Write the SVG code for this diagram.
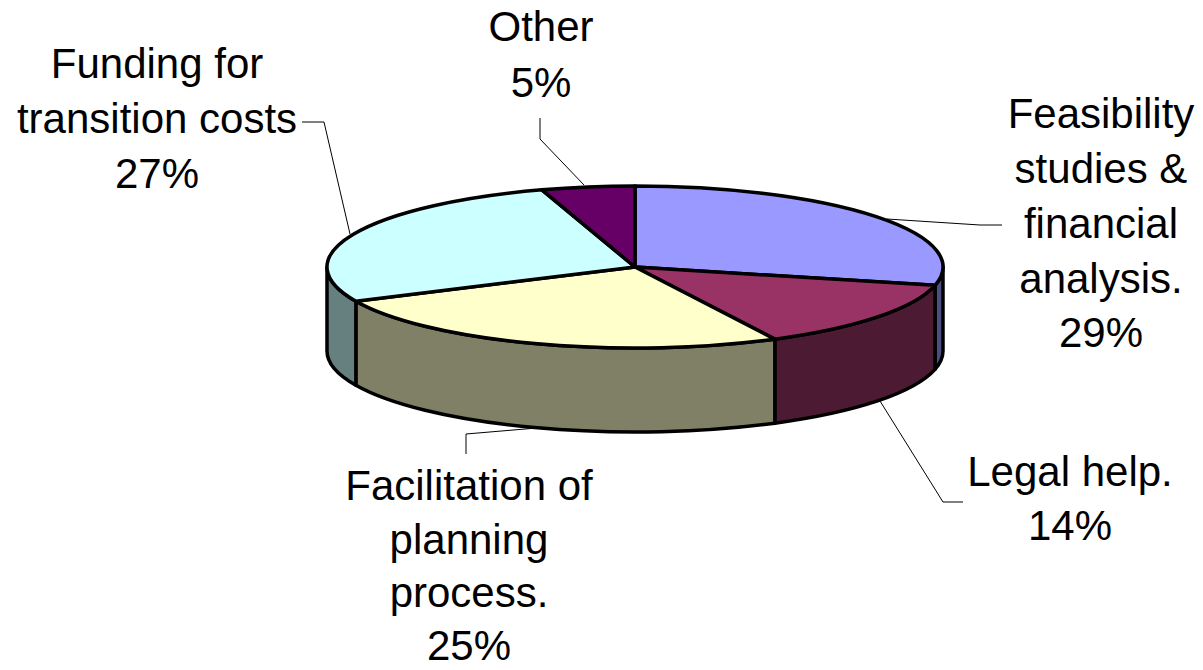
<svg xmlns="http://www.w3.org/2000/svg" width="1203" height="670" viewBox="0 0 1203 670">
<style>
.slice{stroke:#000;stroke-width:3.5;stroke-linejoin:round}
.lead{fill:none;stroke:#000;stroke-width:1}
.lbl{font-family:"Liberation Sans",Arial,sans-serif;font-size:42px;fill:#000;text-anchor:middle}
</style>
<rect width="1203" height="670" fill="#fff"/>
<g id="pie-sides">
<path id="side-feasibility" class="slice" fill="#4D4D80" d="M943,267 A308,81 0 0 1 935,285.36 L935,369.36 A308,81 0 0 0 943,351 Z"/>
<path id="side-legal" class="slice" fill="#4D1A33" d="M935,285.36 A308,81 0 0 1 774.83,339.17 L774.83,423.17 A308,81 0 0 0 935,369.36 Z"/>
<path id="side-facilitation" class="slice" fill="#808066" d="M774.83,339.17 A308,81 0 0 1 355.86,301.23 L355.86,385.23 A308,81 0 0 0 774.83,423.17 Z"/>
<path id="side-funding" class="slice" fill="#668080" d="M355.86,301.23 A308,81 0 0 1 327,267 L327,351 A308,81 0 0 0 355.86,385.23 Z"/>
</g>
<g id="slice-feasibility"><path class="slice" fill="#9999FF" d="M635,267 L635,186 A308,81 0 0 1 935,285.36 Z"/></g>
<g id="slice-legal"><path class="slice" fill="#993366" d="M635,267 L935,285.36 A308,81 0 0 1 774.83,339.17 Z"/></g>
<g id="slice-facilitation"><path class="slice" fill="#FFFFCC" d="M635,267 L774.83,339.17 A308,81 0 0 1 355.86,301.23 Z"/></g>
<g id="slice-funding"><path class="slice" fill="#CCFFFF" d="M635,267 L355.86,301.23 A308,81 0 0 1 541.87,189.79 Z"/></g>
<g id="slice-other"><path class="slice" fill="#660066" d="M635,267 L541.87,189.79 A308,81 0 0 1 635,186 Z"/></g>
<g id="connectors">
<polyline class="lead" points="540,118 540,139 584,185"/>
<polyline class="lead" points="302,122 324,122 350,234"/>
<polyline class="lead" points="1002,225 980,225 887,219"/>
<polyline class="lead" points="880,401 943,502 963,502"/>
<polyline class="lead" points="537,428 466,434 466,454"/>
</g>
<g id="label-other"><text class="lbl" x="541" y="41">Other</text><text class="lbl" x="541" y="97">5%</text></g>
<g id="label-funding"><text class="lbl" x="157" y="78">Funding for</text><text class="lbl" x="157" y="133">transition costs</text><text class="lbl" x="157" y="188">27%</text></g>
<g id="label-feasibility"><text class="lbl" x="1101" y="128">Feasibility</text><text class="lbl" x="1101" y="183">studies &amp;</text><text class="lbl" x="1101" y="238">financial</text><text class="lbl" x="1101" y="293">analysis.</text><text class="lbl" x="1101" y="347">29%</text></g>
<g id="label-legal"><text class="lbl" x="1070" y="486">Legal help.</text><text class="lbl" x="1070" y="540">14%</text></g>
<g id="label-facilitation"><text class="lbl" x="469" y="500">Facilitation of</text><text class="lbl" x="469" y="554">planning</text><text class="lbl" x="469" y="607">process.</text><text class="lbl" x="469" y="660">25%</text></g>
</svg>
